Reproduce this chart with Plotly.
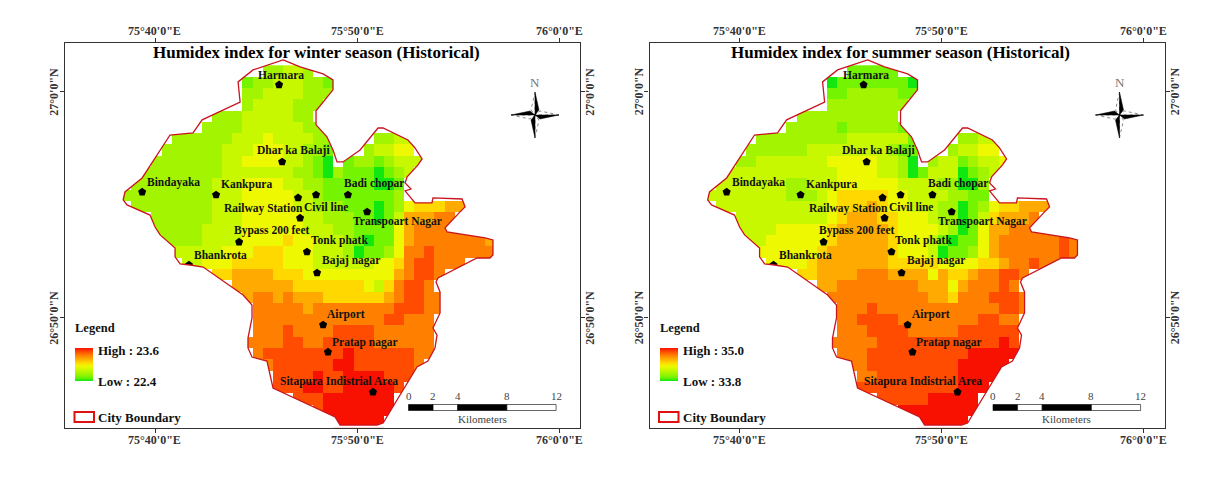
"""Humidex index maps of Jaipur for winter and summer (historical)."""

import numpy as np
import plotly.graph_objects as go
from plotly.subplots import make_subplots

# ── data (longitude = arcminutes east of 75 deg, latitude = arcminutes north of 26 deg) ──
TITLES = [
    "Humidex index for winter season (Historical)",
    "Humidex index for summer season (Historical)",
]
WINTER_LOW, WINTER_HIGH = 22.4, 23.6
SUMMER_LOW, SUMMER_HIGH = 33.8, 35.0

GRID_LON_START = 38.32  # west edge of first column
GRID_LAT_START = 61.164  # north edge of first row
GRID_STEP = 0.5
GRID_COLS = 38

# first occupied column of each row
FIRST_COL = [14, 12, 12, 12, 9, 8, 5, 4, 3, 2, 1, 0, 1, 3, 3, 4,
             5, 6, 9, 11, 12, 13, 13, 13, 12, 13, 14, 15, 15, 17, 19, 21]

# colour class per cell, 0 = low ... 9 = high
WINTER_ROWS = [
    "22332",
    "122333221",
    "223333222",
    "23333222",
    "2223333322",
    "222233333322",
    "2222223334333322    2233",
    "22222233344433221   23344",
    "222222233444433210 12212333",
    "222222223333333221021110123",
    "222222223334444332211111001",
    "2222222223334444433211111112",
    "222222223334444433222111012455566",
    "222222333444444332221101366677",
    "2222233334444443332211114677777",
    "222233334444544333210114677777776",
    "33333444555444333201124778777777",
    "3344455555444333333445788777",
    "55666655544444444467887",
    "66666655555554357887",
    "67767666555555678877",
    "7777767777777788877",
    "777777777777788777",
    "777877778888777777",
    "7777887788888777777",
    "788888888988888877",
    "7888888998888887",
    "88889889999888",
    "8889988999998",
    "8889999999",
    "89999999",
    "99999",
]
SUMMER_ROWS = [
    "11111",
    "011111110",
    "112222211",
    "22222222",
    "2222222222",
    "222221222221",
    "2222222223333331    2233",
    "22222233333333211   23344",
    "223333333444443320 23312334",
    "333333333334444332013330123",
    "333333322333444444333322002",
    "3333333322234555554433332211",
    "333333333334555654433322012455666",
    "333333333456665544432201356667",
    "3333444445666665444432014667777",
    "334444445666665444310114677777787",
    "44444456666665444301124677777787",
    "44445666666655555444455677877",
    "55666677766664655677887",
    "66777777776664677787",
    "77777777776657778887",
    "7778777777777777887",
    "778888777777778877",
    "777888877777888888",
    "7777788888888888898",
    "777888888888899999",
    "7788888888899999",
    "77888888889999",
    "8888888888999",
    "8888899999",
    "99999999",
    "99999",
]

BOUNDARY_LON = [
    46.34, 47.18, 48.32, 48.81, 48.81, 47.97, 47.97, 48.51, 48.81, 49.01, 49.31, 50.15,
    51.04, 51.29, 52.52, 52.87, 53.22, 53.02, 52.48, 52.38, 52.67, 52.38, 52.87, 53.71,
    53.76, 55.20, 55.35, 55.10, 54.36, 54.46, 56.34, 56.73, 56.73, 56.58, 55.94, 54.01,
    53.91, 54.11, 54.11, 53.76, 53.96, 53.86, 53.51, 52.97, 51.29, 50.99, 49.16, 48.91,
    45.84, 45.54, 44.80, 44.60, 44.60, 44.80, 44.80, 44.36, 42.38, 41.73, 41.24, 40.99,
    40.99, 40.25, 40.00, 39.75, 38.61, 38.42, 38.51, 39.36, 40.74, 41.88, 42.33, 44.21,
    44.11, 44.85,
]
BOUNDARY_LAT = [
    61.40, 61.09, 60.78, 60.52, 60.08, 59.15, 58.53, 58.00, 57.42, 56.89, 56.89, 57.42,
    58.39, 58.39, 57.86, 57.51, 57.02, 56.76, 56.23, 55.96, 55.69, 55.61, 55.08, 55.08,
    55.30, 55.25, 54.90, 54.68, 53.97, 53.79, 53.53, 53.44, 52.77, 52.64, 52.64, 51.76,
    51.58, 51.14, 50.21, 49.54, 49.23, 48.66, 48.08, 47.82, 45.34, 45.25, 45.25, 45.61,
    46.89, 48.08, 48.26, 48.66, 49.10, 49.99, 50.56, 51.00, 52.24, 52.33, 52.38, 52.69,
    53.08, 53.66, 54.01, 54.54, 54.99, 55.21, 55.56, 56.18, 58.08, 58.17, 58.75, 59.54,
    60.43, 60.96,
]

STATIONS = [
    "Harmara", "Dhar ka Balaji", "Bindayaka", "Kankpura", "Railway Station", "Civil line",
    "Badi chopar", "Transpoart Nagar", "Bypass 200 feet", "Tonk phatk", "Bajaj nagar",
    "Bhankrota", "Airport", "Pratap nagar", "Sitapura Indistrial Area", "",
]
STATION_LON = [46.14, 46.29, 39.36, 43.02, 47.08, 47.97, 49.55, 50.50,
               44.16, 47.52, 48.02, 41.68, 48.32, 48.56, 50.79, 47.18]
STATION_LAT = [60.30, 56.89, 55.56, 55.43, 55.30, 55.43, 55.43, 54.68,
               53.35, 52.91, 51.98, 52.33, 49.68, 48.48, 46.71, 54.41]

LON_TICKS = [40, 50, 60]
LON_LABELS = ["75°40'0\"E", "75°50'0\"E", "76°0'0\"E"]
LAT_TICKS = [50, 60]
LAT_LABELS = ["26°50'0\"N", "27°0'0\"N"]

SCALE_LABELS = ["0", "2", "4", "8", "12"]
SCALE_KM = [0, 2, 4, 8, 12]

# ── layout constants ──
WIDTH, HEIGHT = 1216, 480
SERIF = "Liberation Serif"
OFFSETS = [0, 584.5]  # horizontal shift of each panel, px
FRAME_L, FRAME_R, FRAME_T, FRAME_B = 65, 580, 43, 428
X_RANGE = [35.54, 61.04]
Y_RANGE = [45.12, 62.15]
# label shift from its marker, px
LABEL_DX = [-23, -27, 3, 3, -76, -14, -6, -16, -7, 2, 3, 3, 2, 2, -95, 0]
LABEL_DY = [10, 11, 9, 10, -11, -12, 11, -10, 11, 11, 12, 10, 10, 10, 11, 0]
CLASS_COLORS = ["#10e810", "#74f400", "#a2f400", "#c8f800", "#eef800",
                "#ffd800", "#ffaa00", "#ff8000", "#ff4c00", "#f81000"]
COLORSCALE = [[i / 9, c] for i, c in enumerate(CLASS_COLORS)]


def px(x):
    return x / WIDTH


def py(y):
    return 1 - y / HEIGHT


def rows_to_grid(rows, low, high):
    z = np.full((len(rows), GRID_COLS), np.nan)
    for r, (first, row) in enumerate(zip(FIRST_COL, rows)):
        for i, ch in enumerate(row):
            if ch != " ":
                z[r, first + i] = low + int(ch) * (high - low) / 9
    return z


def paper_path(points):
    return "M " + " L ".join(f"{px(x):.5f},{py(y):.5f}" for x, y in points) + " Z"


lon_edges = GRID_LON_START + GRID_STEP * np.arange(GRID_COLS + 1)
lat_edges = GRID_LAT_START - GRID_STEP * np.arange(len(FIRST_COL) + 1)

fig = make_subplots(rows=1, cols=2)
shapes = []
notes = []


def note(text, x, y, size=12, bold=True, anchor="left", color="#111111", angle=0):
    notes.append(dict(
        text=f"<b>{text}</b>" if bold else text, x=px(x), y=py(y), xref="paper", yref="paper",
        xanchor=anchor, yanchor="middle", showarrow=False, textangle=angle,
        font=dict(family=SERIF, size=size, color=color),
    ))


panels = [(WINTER_ROWS, WINTER_LOW, WINTER_HIGH), (SUMMER_ROWS, SUMMER_LOW, SUMMER_HIGH)]
for p, (rows, low, high) in enumerate(panels):
    dx = OFFSETS[p]
    fig.add_trace(go.Heatmap(
        x=lon_edges, y=lat_edges, z=rows_to_grid(rows, low, high),
        zmin=low, zmax=high, colorscale=COLORSCALE, hoverongaps=False,
        colorbar=dict(
            x=px(75 + dx), xanchor="left", xpad=0, y=py(364.5), yanchor="middle", ypad=0,
            thickness=18, thicknessmode="pixels", len=33, lenmode="pixels",
            outlinewidth=0, showticklabels=False, ticks="",
        ),
    ), row=1, col=p + 1)
    fig.add_trace(go.Scatter(
        x=STATION_LON, y=STATION_LAT, mode="markers",
        marker=dict(symbol="pentagon", size=8.5, color="black"),
        hovertext=STATIONS, hoverinfo="text",
    ), row=1, col=p + 1)

    xref, yref = ("x", "y") if p == 0 else ("x2", "y2")

    # white mask around the city so cells stop at the boundary
    ring = " L ".join(f"{a},{b}" for a, b in zip(BOUNDARY_LON, BOUNDARY_LAT))
    shapes.append(dict(
        type="path", xref=xref, yref=yref, layer="above", fillrule="evenodd",
        path=f"M 36,45.14 L 60,45.14 L 60,62 L 36,62 Z M {ring} Z",
        fillcolor="white", line=dict(width=0),
    ))
    shapes.append(dict(
        type="path", xref=xref, yref=yref, layer="above",
        path=f"M {ring} Z", line=dict(color="#c8141e", width=1.3),
    ))

    # station names
    for name, lon, lat, sx, sy in zip(STATIONS, STATION_LON, STATION_LAT, LABEL_DX, LABEL_DY):
        if name:
            notes.append(dict(
                text=f"<b>{name}</b>", x=lon, y=lat, xref=xref, yref=yref, xshift=sx, yshift=sy,
                xanchor="left", yanchor="middle", showarrow=False,
                font=dict(family=SERIF, size=11.5, color="#111111"),
            ))

    # title, legend
    note(TITLES[p], 316 + dx, 52, size=17, anchor="center", color="black")
    note("Legend", 73 + dx, 328, size=12.5)
    note(f"High : {high:.1f}", 96 + dx, 350, size=13)
    note(f"Low : {low:.1f}", 96 + dx, 381, size=13)
    note("City Boundary", 96 + dx, 417.5, size=13)
    shapes.append(dict(
        type="rect", xref="paper", yref="paper", layer="above",
        x0=px(74.5 + dx), x1=px(94 + dx), y0=py(422), y1=py(412),
        line=dict(color="#e01010", width=2), fillcolor="white",
    ))

    # tick labels on all four sides
    for tick, label in zip(LON_TICKS, LON_LABELS):
        xpos = 155 + (tick - 40) * 20.2 + dx
        note(label, xpos, 440, size=12, anchor="center", color="#333333")
        note(label, xpos, 31, size=12, anchor="center", color="#333333")
    for tick, label in zip(LAT_TICKS, LAT_LABELS):
        ypos = 317.7 - (tick - 50) * 22.6
        note(label, 54 + dx, ypos, size=12, anchor="center", color="#333333", angle=-90)
        note(label, 590 + dx, ypos, size=12, anchor="center", color="#333333", angle=-90)

    # scale bar
    def scale_x(km):
        return 408.5 + km * 12.3 + dx

    for i in range(len(SCALE_KM) - 1):
        shapes.append(dict(
            type="rect", xref="paper", yref="paper", layer="above",
            x0=px(scale_x(SCALE_KM[i])), x1=px(scale_x(SCALE_KM[i + 1])), y0=py(410.5), y1=py(404.5),
            line=dict(color="black", width=0.6),
            fillcolor="black" if i % 2 == 0 else "white",
        ))
    for km, label in zip(SCALE_KM, SCALE_LABELS):
        note(label, scale_x(km), 395.5, size=11, anchor="center", color="#444444", bold=False)
    note("Kilometers", scale_x(6), 419, size=11, anchor="center", color="#444444", bold=False)

    # north arrow
    cx, cy = 535 + dx, 115
    note("N", cx, 82, size=13, anchor="center", color="#777777", bold=False)
    black = [
        [(cx, cy - 23), (cx + 4, cy - 5), (cx, cy)],
        [(cx + 24, cy), (cx + 5, cy + 4), (cx, cy)],
        [(cx, cy + 23), (cx - 4, cy + 5), (cx, cy)],
        [(cx - 24, cy), (cx - 5, cy - 4), (cx, cy)],
    ]
    pale = [
        [(cx, cy - 23), (cx - 4, cy - 5), (cx, cy)],
        [(cx + 24, cy), (cx + 5, cy - 4), (cx, cy)],
        [(cx, cy + 23), (cx + 4, cy + 5), (cx, cy)],
        [(cx - 24, cy), (cx - 5, cy + 4), (cx, cy)],
    ]
    for tri in pale:
        shapes.append(dict(type="path", xref="paper", yref="paper", path=paper_path(tri),
                           fillcolor="white", line=dict(color="#555555", width=0.7, dash="dot")))
    for tri in black:
        shapes.append(dict(type="path", xref="paper", yref="paper", path=paper_path(tri),
                           fillcolor="black", line=dict(color="black", width=0.5)))

    # axes
    axis = dict(showgrid=False, zeroline=False, showline=True, mirror="ticks", linecolor="#333333",
                linewidth=1.1, ticks="outside", ticklen=4, tickcolor="#333333", showticklabels=False)
    fig.update_xaxes(axis, range=X_RANGE, tickvals=LON_TICKS,
                     domain=[px(FRAME_L + dx), px(FRAME_R + dx)], row=1, col=p + 1)
    fig.update_yaxes(axis, range=Y_RANGE, tickvals=LAT_TICKS,
                     domain=[py(FRAME_B), py(FRAME_T)], row=1, col=p + 1)

fig.update_layout(
    width=WIDTH, height=HEIGHT, margin=dict(l=0, r=0, t=0, b=0),
    paper_bgcolor="white", plot_bgcolor="white", showlegend=False,
    shapes=shapes, annotations=notes,
)

fig.write_html("out.html", post_script="document.body.style.margin='0';",
               config=dict(displayModeBar=False))
